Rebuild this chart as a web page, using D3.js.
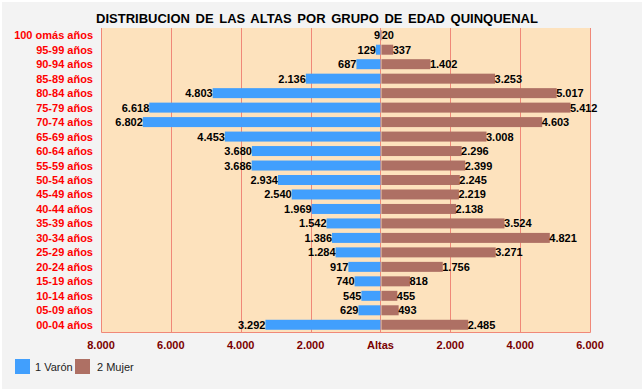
<!DOCTYPE html>
<html>
<head>
<meta charset="utf-8">
<script src="https://cdn.jsdelivr.net/npm/d3@7"></script>
<style>
  html, body { margin: 0; padding: 0; background: #fff; }
  svg { display: block; }
  text { font-family: "Liberation Sans", Arial, sans-serif; }
</style>
</head>
<body>
<svg id="chart" width="642" height="389"></svg>
<script>
// age groups, top to bottom
var grupos = ["100 omás años", "95-99 años", "90-94 años", "85-89 años", "80-84 años",
    "75-79 años", "70-74 años", "65-69 años", "60-64 años", "55-59 años", "50-54 años",
    "45-49 años", "40-44 años", "35-39 años", "30-34 años", "25-29 años", "20-24 años",
    "15-19 años", "10-14 años", "05-09 años", "00-04 años"];

var varon = [9, 129, 687, 2136, 4803, 6618, 6802, 4453, 3680, 3686, 2934,
    2540, 1969, 1542, 1386, 1284, 917, 740, 545, 629, 3292];

var mujer = [20, 337, 1402, 3253, 5017, 5412, 4603, 3008, 2296, 2399, 2245,
    2219, 2138, 3524, 4821, 3271, 1756, 818, 455, 493, 2485];

var ticks = [-8000, -6000, -4000, -2000, 0, 2000, 4000, 6000];

var fmt = function (v) {
    return d3.format(",")(Math.abs(v)).replace(/,/g, ".");
};

var svg = d3.select("#chart");

// background
svg.append("rect").attr("x", 2).attr("y", 2).attr("width", 640).attr("height", 387)
    .attr("fill", "#f3f3f3");

var margin = {left: 101, right: 52, top: 28, bottom: 57},
    width = 642 - margin.left - margin.right,
    height = 389 - margin.top - margin.bottom;

var x = d3.scaleLinear().domain([-8000, 6000]).range([0, width]);
var y = d3.scaleBand().domain(grupos).range([0, height]).paddingInner(0.31).paddingOuter(0.155);

svg.append("text")
    .attr("x", 317).attr("y", 23)
    .attr("text-anchor", "middle")
    .attr("font-size", 13).attr("font-weight", "bold")
    .attr("letter-spacing", 0).attr("word-spacing", 2)
    .attr("fill", "#000")
    .text("DISTRIBUCION DE LAS ALTAS POR GRUPO DE EDAD QUINQUENAL");

var g = svg.append("g").attr("transform", "translate(" + margin.left + "," + margin.top + ")");

g.append("rect").attr("width", width).attr("height", height).attr("fill", "#fde2bd");

// grid
g.selectAll("line.grid").data(ticks).enter().append("line")
    .attr("class", "grid")
    .attr("x1", function (d) { return Math.round(x(d)) + 0.5; })
    .attr("x2", function (d) { return Math.round(x(d)) + 0.5; })
    .attr("y1", 0).attr("y2", height)
    .attr("stroke", "#f08878").attr("stroke-width", 1);

// border (left, right, bottom)
g.append("path")
    .attr("d", "M0.5,0V" + (height + 0.5) + "H" + (width + 0.5) + "V0")
    .attr("fill", "none").attr("stroke", "#f08878");

// bars
g.selectAll("rect.varon").data(varon).enter().append("rect")
    .attr("class", "varon")
    .attr("x", function (d) { return x(-d); })
    .attr("y", function (d, i) { return y(grupos[i]); })
    .attr("width", function (d) { return x(0) - x(-d); })
    .attr("height", y.bandwidth())
    .attr("fill", "#419ffd");

g.selectAll("rect.mujer").data(mujer).enter().append("rect")
    .attr("class", "mujer")
    .attr("x", x(0) + 1)
    .attr("y", function (d, i) { return y(grupos[i]); })
    .attr("width", function (d) { return x(d) - x(0); })
    .attr("height", y.bandwidth())
    .attr("fill", "#ae7064");

// value labels
g.selectAll("text.lv").data(varon).enter().append("text")
    .attr("class", "lv")
    .attr("x", function (d) { return x(-d); })
    .attr("y", function (d, i) { return y(grupos[i]) + y.bandwidth() / 2 + 4; })
    .attr("text-anchor", "end")
    .attr("font-size", 11).attr("font-weight", "bold").attr("fill", "#000")
    .text(function (d) { return fmt(d); });

g.selectAll("text.lm").data(mujer).enter().append("text")
    .attr("class", "lm")
    .attr("x", function (d) { return x(d) + 0.5; })
    .attr("y", function (d, i) { return y(grupos[i]) + y.bandwidth() / 2 + 4; })
    .attr("text-anchor", "start")
    .attr("font-size", 11).attr("font-weight", "bold").attr("fill", "#000")
    .text(function (d) { return fmt(d); });

// category labels
g.selectAll("text.cat").data(grupos).enter().append("text")
    .attr("class", "cat")
    .attr("x", -8)
    .attr("y", function (d) { return y(d) + y.bandwidth() / 2 + 4; })
    .attr("text-anchor", "end")
    .attr("font-size", 11).attr("font-weight", "bold").attr("fill", "#ff0000")
    .text(function (d) { return d; });

// x tick labels
g.selectAll("text.tick").data(ticks).enter().append("text")
    .attr("class", "tick")
    .attr("x", function (d) { return x(d); })
    .attr("y", height + 17)
    .attr("text-anchor", "middle")
    .attr("font-size", 11).attr("font-weight", "bold").attr("fill", "#7a0000")
    .text(function (d) { return d === 0 ? "Altas" : fmt(d); });

// legend
var legend = [{name: "1 Varón", color: "#419ffd", x: 15}, {name: "2 Mujer", color: "#ae7064", x: 75}];
var lg = svg.selectAll("g.legend").data(legend).enter().append("g")
    .attr("class", "legend")
    .attr("transform", function (d) { return "translate(" + d.x + ",359)"; });
lg.append("rect").attr("width", 15).attr("height", 15).attr("fill", function (d) { return d.color; });
lg.append("text")
    .attr("x", function (d, i) { return i === 0 ? 20 : 22; })
    .attr("y", 12)
    .attr("font-size", 11).attr("fill", "#222")
    .text(function (d) { return d.name; });
</script>
</body>
</html>
